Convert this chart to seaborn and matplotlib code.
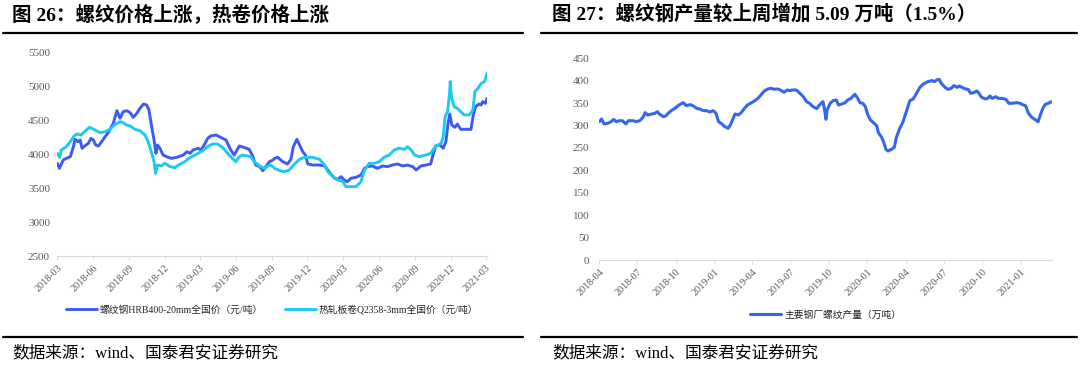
import matplotlib
matplotlib.use("Agg")
import matplotlib.pyplot as plt
from matplotlib.lines import Line2D
import seaborn as sns
import pandas as pd

# ---------------- data: left chart (price, 元/吨) ----------------
rebar_dates = [
    "2018-03-02", "2018-03-07", "2018-03-17", "2018-03-25", "2018-04-04", "2018-04-12", "2018-04-16",
    "2018-04-23", "2018-04-29", "2018-05-04", "2018-05-11", "2018-05-20", "2018-05-27", "2018-06-02",
    "2018-06-08", "2018-06-15", "2018-06-23", "2018-07-02", "2018-07-10", "2018-07-17", "2018-07-23",
    "2018-08-01", "2018-08-09", "2018-08-17", "2018-08-26", "2018-09-04", "2018-09-12", "2018-09-21",
    "2018-09-29", "2018-10-08", "2018-10-16", "2018-10-22", "2018-10-29", "2018-11-04", "2018-11-09",
    "2018-11-13", "2018-11-19", "2018-11-27", "2018-12-06", "2018-12-19", "2019-01-01", "2019-01-18",
    "2019-01-27", "2019-02-04", "2019-02-12", "2019-02-25", "2019-03-04", "2019-03-12", "2019-03-21",
    "2019-03-29", "2019-04-11", "2019-04-20", "2019-04-28", "2019-05-07", "2019-05-11", "2019-05-19",
    "2019-05-28", "2019-06-04", "2019-06-10", "2019-06-22", "2019-07-05", "2019-07-13", "2019-07-22",
    "2019-08-01", "2019-08-09", "2019-08-17", "2019-08-26", "2019-09-04", "2019-09-08", "2019-09-16",
    "2019-09-29", "2019-10-11", "2019-10-20", "2019-10-26", "2019-11-04", "2019-11-11", "2019-11-19",
    "2019-11-26", "2019-12-02", "2019-12-14", "2020-01-01", "2020-01-14", "2020-01-22", "2020-02-01",
    "2020-02-09", "2020-02-17", "2020-02-25", "2020-03-04", "2020-03-12", "2020-03-21", "2020-04-03",
    "2020-04-16", "2020-04-25", "2020-05-03", "2020-05-15", "2020-05-28", "2020-06-10", "2020-06-23",
    "2020-07-05", "2020-07-18", "2020-08-01", "2020-08-13", "2020-08-26", "2020-09-04", "2020-09-16",
    "2020-09-29", "2020-10-11", "2020-10-17", "2020-10-24", "2020-11-04", "2020-11-12", "2020-11-19",
    "2020-11-25", "2020-11-29", "2020-12-04", "2020-12-12", "2020-12-18", "2020-12-27", "2021-01-09",
    "2021-01-22", "2021-01-28", "2021-02-03", "2021-02-11", "2021-02-17", "2021-02-21", "2021-02-28",
    "2021-03-04",
]
rebar_price = [
    3863, 3789, 3912, 3936, 3960, 4108, 4216, 4181, 4206, 4084, 4118, 4157, 4230, 4206,
    4132, 4118, 4181, 4255, 4314, 4392, 4451, 4637, 4525, 4622, 4637, 4608, 4539, 4598,
    4672, 4735, 4721, 4647, 4402, 4206, 4010, 4132, 4084, 3985, 3960, 3936, 3951, 3985,
    4034, 4010, 4059, 4084, 4059, 4132, 4230, 4265, 4279, 4255, 4230, 4206, 4157, 4059,
    3985, 4059, 4118, 4098, 4069, 3985, 3838, 3814, 3755, 3814, 3887, 3912, 3936, 3951,
    3887, 3853, 3922, 4108, 4216, 4132, 4034, 3985, 3853, 3838, 3838, 3824, 3765, 3691,
    3642, 3627, 3667, 3618, 3593, 3642, 3657, 3691, 3789, 3814, 3824, 3789, 3824, 3814,
    3838, 3853, 3824, 3838, 3814, 3765, 3824, 3838, 3853, 3985, 4118, 4132, 4084, 4181,
    4475, 4588, 4426, 4392, 4441, 4363, 4363, 4363, 4574, 4696, 4735, 4721, 4770, 4745,
    4819,
]

hrc_dates = [
    "2018-03-02", "2018-03-08", "2018-03-12", "2018-03-25", "2018-04-04", "2018-04-12", "2018-04-20",
    "2018-05-02", "2018-05-15", "2018-05-23", "2018-06-06", "2018-06-19", "2018-07-02", "2018-07-14",
    "2018-07-23", "2018-08-01", "2018-08-09", "2018-08-17", "2018-08-26", "2018-09-04", "2018-09-16",
    "2018-09-29", "2018-10-12", "2018-10-20", "2018-10-29", "2018-11-04", "2018-11-08", "2018-11-13",
    "2018-11-22", "2018-12-02", "2018-12-15", "2018-12-27", "2019-01-10", "2019-01-22", "2019-02-01",
    "2019-02-12", "2019-02-25", "2019-03-08", "2019-03-21", "2019-04-03", "2019-04-15", "2019-04-28",
    "2019-05-11", "2019-05-23", "2019-06-01", "2019-06-10", "2019-06-18", "2019-07-01", "2019-07-09",
    "2019-07-18", "2019-08-01", "2019-08-13", "2019-08-26", "2019-09-04", "2019-09-08", "2019-09-21",
    "2019-10-03", "2019-10-16", "2019-10-29", "2019-11-11", "2019-11-23", "2019-12-14", "2020-01-01",
    "2020-01-14", "2020-01-22", "2020-02-05", "2020-02-17", "2020-03-01", "2020-03-08", "2020-03-21",
    "2020-04-03", "2020-04-16", "2020-04-25", "2020-05-07", "2020-05-20", "2020-06-02", "2020-06-14",
    "2020-06-27", "2020-07-10", "2020-07-22", "2020-08-05", "2020-08-13", "2020-08-22", "2020-08-31",
    "2020-09-12", "2020-09-29", "2020-10-11", "2020-10-20", "2020-10-29", "2020-11-07", "2020-11-12",
    "2020-11-17", "2020-11-23", "2020-11-28", "2020-11-30", "2020-12-03", "2020-12-10", "2020-12-18",
    "2020-12-27", "2021-01-05", "2021-01-18", "2021-01-27", "2021-02-01", "2021-02-09", "2021-02-17",
    "2021-02-26", "2021-03-04",
]
hrc_price = [
    4010, 3951, 4059, 4108, 4181, 4255, 4294, 4279, 4353, 4392, 4353, 4314, 4328, 4363,
    4412, 4451, 4475, 4461, 4426, 4412, 4363, 4343, 4279, 4181, 4010, 3887, 3716, 3838,
    3824, 3863, 3814, 3799, 3853, 3887, 3936, 3971, 4010, 4049, 4108, 4147, 4147, 4098,
    4010, 3936, 3887, 3960, 3985, 3971, 3960, 3887, 3824, 3789, 3838, 3814, 3789, 3755,
    3740, 3765, 3853, 3922, 3951, 3951, 3922, 3838, 3740, 3667, 3618, 3593, 3520, 3520,
    3520, 3593, 3765, 3863, 3863, 3887, 3951, 3985, 4059, 4084, 4069, 4108, 4059, 3985,
    3960, 3985, 4010, 4084, 4132, 4157, 4255, 4549, 4622, 4868, 5064, 4843, 4696, 4672,
    4622, 4574, 4574, 4647, 4917, 4966, 5039, 5064, 5186,
]

# ---------------- data: right chart (output, 万吨) ----------------
output_dates = [
    "2018-04-02", "2018-04-07", "2018-04-13", "2018-04-22", "2018-04-30", "2018-05-06", "2018-05-12",
    "2018-05-20", "2018-05-27", "2018-06-04", "2018-06-10", "2018-06-21", "2018-06-29", "2018-07-07",
    "2018-07-15", "2018-07-20", "2018-07-26", "2018-08-05", "2018-08-12", "2018-08-18", "2018-08-24",
    "2018-09-02", "2018-09-07", "2018-09-13", "2018-09-20", "2018-09-29", "2018-10-09", "2018-10-19",
    "2018-10-26", "2018-11-05", "2018-11-12", "2018-11-20", "2018-11-27", "2018-12-06", "2018-12-13",
    "2018-12-21", "2018-12-29", "2019-01-05", "2019-01-11", "2019-01-19", "2019-01-26", "2019-02-03",
    "2019-02-08", "2019-02-15", "2019-02-19", "2019-02-27", "2019-03-06", "2019-03-14", "2019-03-21",
    "2019-04-04", "2019-04-15", "2019-04-22", "2019-05-01", "2019-05-09", "2019-05-16", "2019-05-24",
    "2019-06-02", "2019-06-10", "2019-06-16", "2019-06-24", "2019-06-29", "2019-07-07", "2019-07-15",
    "2019-07-20", "2019-08-01", "2019-08-09", "2019-08-16", "2019-08-24", "2019-09-02", "2019-09-10",
    "2019-09-17", "2019-09-21", "2019-09-24", "2019-09-27", "2019-10-04", "2019-10-11", "2019-10-19",
    "2019-10-24", "2019-11-01", "2019-11-09", "2019-11-15", "2019-11-23", "2019-11-28", "2019-12-02",
    "2019-12-09", "2019-12-14", "2019-12-21", "2019-12-27", "2020-01-02", "2020-01-08", "2020-01-15",
    "2020-01-23", "2020-01-27", "2020-02-04", "2020-02-09", "2020-02-14", "2020-02-19", "2020-02-27",
    "2020-03-05", "2020-03-10", "2020-03-18", "2020-03-25", "2020-04-04", "2020-04-11", "2020-04-19",
    "2020-04-27", "2020-05-05", "2020-05-13", "2020-05-24", "2020-06-03", "2020-06-09", "2020-06-14",
    "2020-06-20", "2020-06-25", "2020-07-04", "2020-07-11", "2020-07-19", "2020-07-25", "2020-08-02",
    "2020-08-07", "2020-08-13", "2020-08-22", "2020-08-28", "2020-09-03", "2020-09-10", "2020-09-18",
    "2020-09-23", "2020-09-29", "2020-10-08", "2020-10-14", "2020-10-19", "2020-10-24", "2020-11-02",
    "2020-11-08", "2020-11-17", "2020-11-26", "2020-12-03", "2020-12-10", "2020-12-22", "2020-12-30",
    "2021-01-06", "2021-01-12", "2021-01-19", "2021-01-27", "2021-02-05", "2021-02-11", "2021-02-16",
    "2021-02-23", "2021-03-01", "2021-03-06", "2021-03-14",
]
output_val = [
    308.6, 314.6, 303.6, 305.1, 308.6, 313.8, 308.6, 310.8, 310.8, 303.6, 310.8, 310.8, 308.6, 310.8,
    318.3, 328.7, 323.5, 325.7, 327.2, 330.9, 324.8, 319.8, 321.3, 327.2, 333.2, 338.4, 345.9, 351.1,
    344.4, 346.6, 343.6, 338.4, 336.9, 333.2, 333.2, 330.2, 333.2, 327.2, 308.6, 303.6, 297.5, 293.8,
    301.2, 316.1, 325.7, 323.5, 328.7, 338.4, 345.9, 353.3, 360.7, 368.2, 377.9, 381.6, 383.1, 380.9,
    381.6, 377.9, 374.1, 379.4, 377.9, 379.4, 379.4, 375.6, 364.4, 353.3, 349.6, 342.2, 337.7, 347.4,
    353.3, 334.7, 313.9, 334.7, 349.6, 355.5, 357.0, 345.9, 348.1, 351.1, 357.0, 360.7, 366.0, 369.7,
    360.7, 351.1, 349.6, 342.2, 323.5, 312.4, 306.4, 299.7, 284.1, 273.7, 261.8, 246.9, 243.2, 246.9,
    251.4, 273.7, 293.8, 306.4, 334.7, 355.5, 359.2, 371.9, 385.3, 392.7, 397.9, 400.2, 397.9, 401.6,
    403.1, 394.2, 385.3, 380.8, 383.1, 389.0, 385.3, 388.2, 385.3, 381.6, 380.8, 371.9, 373.4, 377.1,
    371.9, 363.0, 359.2, 360.7, 366.0, 360.7, 364.4, 360.7, 360.7, 358.5, 349.6, 349.6, 351.1, 349.6,
    345.9, 344.4, 327.2, 318.3, 312.4, 308.6, 323.5, 340.0, 348.0, 349.0, 353.0,
]

left_yticks = [2500, 3000, 3500, 4000, 4500, 5000, 5500]
right_yticks = [0, 50, 100, 150, 200, 250, 300, 350, 400, 450]
left_xticks = ["2018-03", "2018-06", "2018-09", "2018-12", "2019-03", "2019-06", "2019-09",
               "2019-12", "2020-03", "2020-06", "2020-09", "2020-12", "2021-03"]
right_xticks = ["2018-04", "2018-07", "2018-10", "2019-01", "2019-04", "2019-07", "2019-10",
                "2020-01", "2020-04", "2020-07", "2020-10", "2021-01"]

title_left = "图 26：螺纹价格上涨，热卷价格上涨"
title_right = "图 27：螺纹钢产量较上周增加 5.09 万吨（1.5%）"
rebar_label = "螺纹钢HRB400-20mm全国价（元/吨）"
hrc_label = "热轧板卷Q2358-3mm全国价（元/吨）"
output_label = "主要钢厂螺纹产量（万吨）"
source_text = "数据来源：wind、国泰君安证券研究"

# ---------------- style ----------------
sns.set_theme(style="white")
FAM = ["Liberation Serif", "Noto Sans CJK SC"]
plt.rcParams["font.family"] = FAM
plt.rcParams["axes.unicode_minus"] = False

C_REBAR = "#3B5BF2"
C_HRC = "#1CC9F2"
C_OUT = "#3467F0"
TICK_C = "#595959"
SPINE_C = "#D9D9D9"

fig = plt.figure(figsize=(10.8, 3.67), dpi=100)

df_rebar = pd.DataFrame({"date": pd.to_datetime(rebar_dates), "v": rebar_price})
df_hrc = pd.DataFrame({"date": pd.to_datetime(hrc_dates), "v": hrc_price})
df_out = pd.DataFrame({"date": pd.to_datetime(output_dates), "v": output_val})

ax1 = fig.add_axes([57 / 1080, 1 - 256 / 367, 430 / 1080, 204 / 367])
ax2 = fig.add_axes([599 / 1080, 1 - 260 / 367, 453 / 1080, 201.7 / 367])

sns.lineplot(data=df_rebar, x="date", y="v", ax=ax1, color=C_REBAR, lw=2.1, label=rebar_label)
sns.lineplot(data=df_hrc, x="date", y="v", ax=ax1, color=C_HRC, lw=2.1, label=hrc_label)
sns.lineplot(data=df_out, x="date", y="v", ax=ax2, color=C_OUT, lw=2.2, label=output_label)

ax1.set_xlim(pd.Timestamp("2018-03-01"), pd.Timestamp("2021-03-04"))
ax1.set_ylim(2500, 5500)
ax2.set_xlim(pd.Timestamp("2018-04-01"), pd.Timestamp("2021-03-16"))
ax2.set_ylim(0, 450)

for ax, yt, xt, ypad in [(ax1, left_yticks, left_xticks, 5), (ax2, right_yticks, right_xticks, 7)]:
    ax.set_yticks(yt)
    ax.set_yticklabels([str(v) for v in yt])
    ax.set_xticks([pd.Timestamp(s + "-01") for s in xt])
    ax.set_xticklabels(xt)
    ax.set_xlabel("")
    ax.set_ylabel("")
    for s in ["top", "right", "left"]:
        ax.spines[s].set_visible(False)
    ax.spines["bottom"].set_color(SPINE_C)
    ax.spines["bottom"].set_linewidth(0.8)
    ax.tick_params(axis="x", which="major", length=3, width=0.6, color=SPINE_C,
                   labelsize=7.3, labelcolor=TICK_C, pad=2, bottom=True)
    ax.tick_params(axis="y", length=0, labelsize=8, labelcolor=TICK_C, pad=ypad)
    for lab in ax.get_xticklabels():
        lab.set_rotation(45)
        lab.set_ha("right")
        lab.set_rotation_mode("anchor")
    ax.grid(False)
    ax.set_facecolor("white")

ax1.legend(loc="upper center", bbox_to_anchor=(0.5, -0.195), ncol=2, frameon=False,
           handlelength=3.2, columnspacing=2.2, handletextpad=0.3,
           prop={"family": FAM, "size": 7})
ax2.legend(loc="upper center", bbox_to_anchor=(0.5, -0.205), ncol=1, frameon=False,
           handlelength=3.2, handletextpad=0.3, prop={"family": FAM, "size": 7})

# titles, rules, source notes
fig.text(12 / 1080, 1 - 14 / 367, title_left, fontsize=14, fontweight="bold",
         family=FAM, va="center", ha="left", color="black")
fig.text(552 / 1080, 1 - 14 / 367, title_right, fontsize=14, fontweight="bold",
         family=FAM, va="center", ha="left", color="black")
for (x0, x1) in [(3, 523), (541, 1077)]:
    for yy in (33, 337):
        fig.add_artist(Line2D([x0 / 1080, x1 / 1080], [1 - yy / 367, 1 - yy / 367],
                              color="black", lw=1.6, transform=fig.transFigure))
fig.text(12 / 1080, 1 - 353 / 367, source_text, fontsize=12, family=FAM,
         va="center", ha="left", color="black")
fig.text(552 / 1080, 1 - 353 / 367, source_text, fontsize=12, family=FAM,
         va="center", ha="left", color="black")

fig.savefig("out.png", dpi=100, facecolor="white")
